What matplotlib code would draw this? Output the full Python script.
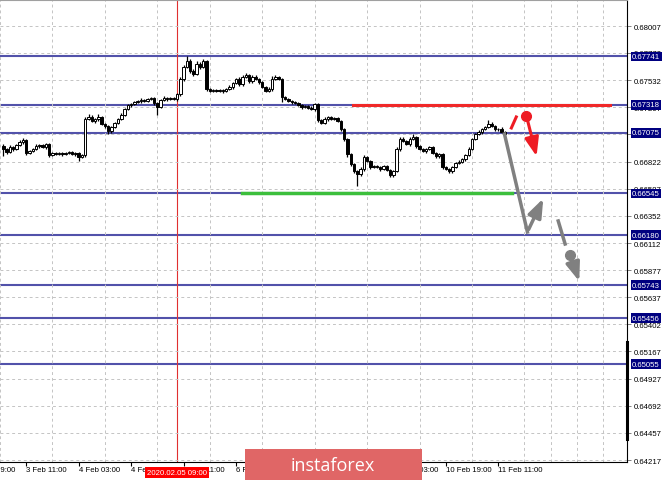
import numpy as np
import matplotlib.pyplot as plt
from matplotlib.patches import Rectangle
from matplotlib.transforms import blended_transform_factory

plt.rcParams['font.family'] = ['Liberation Sans', 'DejaVu Sans']

# hourly candles, first bar = 3 Feb 04:00 (bar index -7)
first_bar = -7
first_open = 0.66960
closes = [
    0.66934, 0.66907, 0.66951, 0.66934, 0.66968, 0.66995, 0.67012, 0.66899,
    0.66916, 0.66934, 0.66960, 0.66968, 0.66951, 0.66977, 0.66881, 0.66899,
    0.66890, 0.66899, 0.66890, 0.66899, 0.66907, 0.66890, 0.66899, 0.66864,
    0.66881, 0.67195, 0.67213, 0.67178, 0.67195, 0.67213, 0.67152, 0.67134,
    0.67091, 0.67125, 0.67160, 0.67195, 0.67230, 0.67283, 0.67318, 0.67326,
    0.67344, 0.67352, 0.67361, 0.67352, 0.67370, 0.67379, 0.67335, 0.67300,
    0.67361, 0.67379, 0.67370, 0.67379, 0.67370, 0.67414, 0.67545, 0.67649,
    0.67702, 0.67614, 0.67588, 0.67676, 0.67649, 0.67702, 0.67457, 0.67440,
    0.67449, 0.67440, 0.67449, 0.67440, 0.67457, 0.67475, 0.67510, 0.67545,
    0.67501, 0.67562, 0.67578, 0.67527, 0.67562, 0.67545, 0.67518, 0.67475,
    0.67440, 0.67457, 0.67545, 0.67562, 0.67545, 0.67387, 0.67370, 0.67352,
    0.67344, 0.67335, 0.67318, 0.67300, 0.67309, 0.67291, 0.67283, 0.67326,
    0.67187, 0.67160, 0.67195, 0.67213, 0.67195, 0.67204, 0.67178, 0.67108,
    0.67021, 0.66890, 0.66802, 0.66741, 0.66715, 0.66759, 0.66864, 0.66829,
    0.66776, 0.66785, 0.66776, 0.66759, 0.66785, 0.66750, 0.66706, 0.66741,
    0.66934, 0.67021, 0.67003, 0.66977, 0.67021, 0.67038, 0.66960, 0.66934,
    0.66916, 0.66934, 0.66951, 0.66899, 0.66872, 0.66890, 0.66776, 0.66759,
    0.66741, 0.66776, 0.66811, 0.66820, 0.66846, 0.66881, 0.66934, 0.67021,
    0.67064, 0.67082, 0.67108, 0.67125, 0.67152, 0.67134, 0.67108, 0.67108,
    0.67082, 0.67064,
]
# wick sizes in points (0.00001)
up_wick = [
    15, 10, 20, 12, 10, 15, 18, 10, 8, 12, 15, 10, 12, 8, 10, 12,
    8, 10, 6, 8, 10, 8, 6, 10, 12, 20, 25, 15, 10, 30, 12, 10,
    8, 10, 12, 10, 15, 12, 10, 8, 12, 10, 15, 8, 10, 12, 8, 10,
    10, 15, 8, 10, 12, 10, 15, 20, 40, 15, 20, 25, 15, 20, 10, 12,
    8, 10, 8, 12, 10, 15, 10, 12, 15, 20, 15, 10, 15, 20, 10, 12,
    10, 15, 25, 15, 12, 10, 8, 10, 12, 8, 10, 12, 8, 10, 15, 10,
    12, 10, 15, 12, 10, 12, 8, 10, 8, 10, 8, 12, 10, 15, 20, 12,
    10, 12, 8, 10, 12, 8, 10, 12, 20, 15, 20, 12, 15, 25, 10, 12,
    8, 10, 12, 10, 8, 10, 12, 10, 8, 12, 10, 15, 12, 10, 15, 12,
    10, 15, 12, 10, 35, 15, 10, 12, 15, 10,
]
lo_wick = [
    60, 15, 12, 20, 10, 12, 15, 20, 10, 12, 8, 15, 10, 20, 15, 12,
    10, 12, 15, 10, 12, 10, 15, 35, 12, 15, 12, 10, 20, 15, 12, 15,
    25, 15, 10, 12, 10, 12, 10, 15, 10, 12, 15, 10, 12, 10, 15, 70,
    12, 10, 15, 10, 12, 15, 20, 15, 10, 20, 15, 12, 15, 10, 15, 12,
    10, 12, 10, 15, 12, 10, 15, 12, 20, 15, 12, 20, 15, 12, 15, 10,
    12, 10, 15, 12, 10, 40, 12, 10, 15, 10, 12, 15, 10, 12, 10, 15,
    15, 12, 10, 15, 12, 10, 12, 15, 20, 25, 20, 15, 105, 20, 15, 12,
    15, 12, 10, 15, 12, 10, 20, 15, 10, 15, 12, 10, 15, 12, 15, 10,
    12, 15, 10, 12, 15, 20, 15, 12, 20, 15, 10, 12, 10, 15, 12, 10,
    12, 10, 15, 12, 10, 12, 15, 20, 12, 10,
]

levels = [0.67741, 0.67318, 0.67075, 0.66545, 0.66180, 0.65743, 0.65456, 0.65055]
price_ticks = [0.68007, 0.67772, 0.67532, 0.67297, 0.67062, 0.66822, 0.66587, 0.66352,
               0.66112, 0.65877, 0.65637, 0.65402, 0.65167, 0.64927, 0.64692, 0.64457,
               0.64217]
time_labels = ["2 Feb 19:00", "3 Feb 11:00", "4 Feb 03:00", "4 Feb 19:00", "5 Feb 11:00",
               "6 Feb 03:00", "6 Feb 19:00", "7 Feb 11:00", "10 Feb 03:00",
               "10 Feb 19:00", "11 Feb 11:00"]
time_label_bars = [-16, 0, 16, 32, 48, 64, 80, 96, 112, 128, 144]
marker_bar = 46
marker_text = "2020.02.05 09:00"

# analyst drawings (bar, price)
resist = (99.7, 178.1, 0.67318)
support = (65.7, 148.3, 0.66545)
red_dash = [(148.0, 0.67117), (149.5, 0.67213)]
red_dot = (152.6, 0.67222)
red_tip = (155.9, 0.66846)
gray_path = [(145.9, 0.67064), (152.9, 0.66209)]
gray_tip = (158.1, 0.66523)
gray_dash = [(162.3, 0.66305), (164.4, 0.66104)]
gray_dot = (166.0, 0.66008)
gray_tip2 = (169.0, 0.65755)

# ---------------------------------------------------------------
closes = np.array(closes)
x = np.arange(len(closes)) + first_bar
opens = np.r_[first_open, closes[:-1]]
top = np.maximum(opens, closes)
bot = np.minimum(opens, closes)
highs = top + np.array(up_wick) * 1e-5
lows = bot - np.array(lo_wick) * 1e-5

fig = plt.figure(figsize=(6.65, 4.81), dpi=100)
ax = fig.add_axes([0, 18 / 481, 627 / 665, 462 / 481])
ax.set_xlim(-7.295, 183.28)
ax.set_ylim(0.64201, 0.68234)

# grid
ax.set_xticks(np.arange(-8, 184, 8), minor=True)
ax.set_xticks(time_label_bars[1:])
ax.set_xticklabels([])
ax.grid(which='minor', axis='x', color='#c4c4c4', lw=0.7, linestyle=(0, (3, 3)))
ax.grid(which='major', axis='y', color='#c4c4c4', lw=0.7, linestyle=(0, (3, 3)))
ax.tick_params(axis='x', which='minor', length=0)
ax.tick_params(axis='x', which='major', length=3, width=0.8, color='black')

ax.yaxis.tick_right()
ax.set_yticks(price_ticks)
ax.set_yticklabels([f"{v:.5f}" for v in price_ticks])
ax.tick_params(axis='y', length=3, width=0.7, color='#808080', pad=1.5, labelsize=5.6)

ax.spines['left'].set_visible(False)
ax.spines['top'].set_color('#a0a0a0')
ax.spines['right'].set_color('black')
ax.spines['bottom'].set_color('black')

# level lines
for lv in levels:
    ax.axhline(lv, color='#5252aa', lw=1.5, zorder=1)

ax.axvline(marker_bar, color='#e03030', lw=0.8, zorder=1)

# candles
ax.vlines(x, lows, highs, color='black', lw=0.9, zorder=3)
heights = np.maximum(top - bot, 0.00002)
colors = ['white' if c >= o else 'black' for o, c in zip(opens, closes)]
ax.bar(x, heights, bottom=bot, width=0.75, color=colors, edgecolor='black',
       linewidth=0.7, zorder=4)

# support / resistance
ax.plot(resist[:2], [resist[2]] * 2, color='#f02828', lw=2.2, zorder=2)
ax.plot(support[:2], [support[2]] * 2, color='#3cbf3c', lw=2.5, zorder=2)

# red forecast
red = '#ee1c24'
ax.plot(*zip(*red_dash), color=red, lw=2.2, zorder=5)
ax.plot(*red_dot, 'o', color=red, ms=7, zorder=5)
ax.annotate('', xy=red_tip, xytext=red_dot,
            arrowprops=dict(arrowstyle='-|>,head_length=0.8,head_width=0.3',
                            color=red, lw=2.2, mutation_scale=14), zorder=5)

# gray forecast
gray = '#808080'
ax.plot(*zip(*gray_path), color=gray, lw=2.5, zorder=5)
ax.annotate('', xy=gray_tip, xytext=gray_path[-1],
            arrowprops=dict(arrowstyle='-|>,head_length=0.8,head_width=0.3',
                            color=gray, lw=2.5, mutation_scale=14), zorder=5)
ax.plot(*zip(*gray_dash), color=gray, lw=2.5, zorder=5)
ax.plot(*gray_dot, 'o', color=gray, ms=7, zorder=5)
ax.annotate('', xy=gray_tip2, xytext=gray_dot,
            arrowprops=dict(arrowstyle='-|>,head_length=0.8,head_width=0.3',
                            color=gray, lw=2.5, mutation_scale=14), zorder=5)

# right-hand level labels
ty = blended_transform_factory(ax.transAxes, ax.transData)
for lv in levels:
    ax.text(1.008, lv, f"{lv:.5f}", transform=ty, ha='left', va='center',
            fontsize=5.6, color='white', clip_on=False, zorder=6,
            bbox=dict(boxstyle='square,pad=0.18', fc='#000080', ec='none'))
ax.plot([1, 1], [0.65249, 0.64402], transform=ty, color='black', lw=2.2,
        clip_on=False, zorder=6)

# time labels
tx = blended_transform_factory(ax.transData, ax.transAxes)
for b, lab in zip(time_label_bars, time_labels):
    ax.text(b, -0.009, lab, transform=tx, ha='left', va='top', fontsize=5.6,
            clip_on=False, zorder=3)
ax.text(marker_bar, -0.0227, marker_text, transform=tx, ha='center', va='center',
        fontsize=5.6, color='white', clip_on=False, zorder=7,
        bbox=dict(boxstyle='square,pad=0.25', fc='#ff0000', ec='none'))

# watermark
fig.patches.append(Rectangle((245 / 665, 0), 177 / 665, 31 / 481,
                             transform=fig.transFigure, fc='#e06666', ec='none'))
fig.text(333 / 665, 15 / 481, "instaforex", ha='center', va='center',
         fontsize=13, color='white', family=['Open Sans', 'DejaVu Sans'])

fig.savefig('out.png', dpi=100)
